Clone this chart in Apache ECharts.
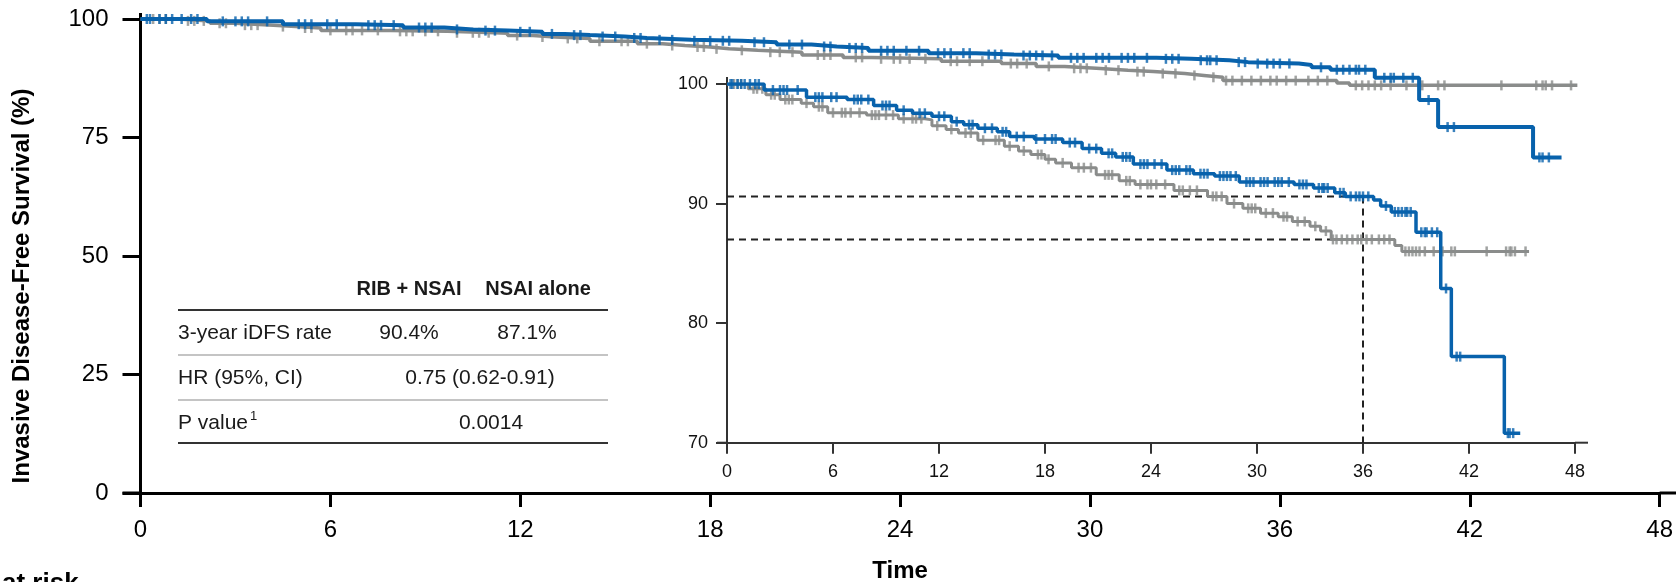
<!DOCTYPE html>
<html><head><meta charset="utf-8">
<script src="https://cdn.jsdelivr.net/npm/echarts@6/dist/echarts.min.js"></script>
<style>html,body{margin:0;padding:0;background:#fff;overflow:hidden}#c{width:1676px;height:582px}</style>
</head><body><div id="c"></div>
<script>
// ---------- data ----------
const xTicks = [0, 6, 12, 18, 24, 30, 36, 42, 48];
const mainYTicks = [0, 25, 50, 75, 100];
const insetYTicks = [70, 80, 90, 100];

// RIB + NSAI (blue): times of drops and survival after each drop
const ribTimes  = [0, 2.1, 4.5, 6.8, 8.3, 9.6, 10.5, 11.6, 12.7, 13.4, 14.2, 15.3, 16.0, 17.4, 19.0, 20.1, 21.2, 22.0, 23.0, 24.9, 26.4, 27.6, 29.0, 32.1, 33.2, 34.4, 35.0, 36.6, 37.0, 37.6, 39.0, 40.4, 41.0, 44.0];
const ribValues = [100, 99.5, 98.9, 98.7, 98.2, 97.8, 97.55, 97.3, 96.85, 96.6, 96.3, 96.0, 95.6, 95.4, 95.1, 94.6, 94.2, 93.9, 93.3, 92.8, 92.5, 92.3, 91.8, 91.6, 91.3, 90.9, 90.6, 90.3, 89.8, 89.3, 87.6, 82.9, 77.2, 70.8];
const ribEnd = 44.9;
const ribCensor = [0.2, 0.3, 0.6, 0.8, 1.0, 1.3, 1.6, 1.8, 2.6, 3.0, 3.2, 3.4, 4.0, 5.0, 5.2, 5.4, 5.9, 6.2, 7.2, 7.4, 7.6, 8.0, 8.8, 9.0, 9.2, 10.0, 10.9, 11.2, 12.0, 12.3, 13.0, 13.7, 13.9, 14.6, 15.0, 15.6, 15.8, 16.4, 16.8, 17.5, 18.0, 18.4, 18.6, 19.4, 19.7, 20.5, 20.9, 21.6, 21.8, 22.4, 22.6, 22.8, 23.4, 23.6, 23.8, 24.2, 24.6, 25.2, 25.4, 25.6, 26.0, 26.2, 26.8, 27.0, 27.2, 27.9, 28.1, 28.3, 28.5, 28.8, 29.4, 29.6, 29.8, 30.2, 30.4, 30.6, 31.0, 31.2, 31.4, 31.8, 32.4, 32.6, 32.8, 33.5, 33.7, 33.8, 34.0, 34.7, 34.9, 35.3, 35.6, 35.8, 36.0, 36.3, 37.3, 37.8, 38.0, 38.2, 38.4, 38.5, 38.7, 39.3, 39.5, 39.6, 39.9, 40.2, 40.7, 41.3, 41.5, 44.2, 44.3, 44.5];

// NSAI alone (grey)
const nsaiTimes  = [0, 1.2, 2.2, 3.0, 4.2, 4.9, 5.7, 7.9, 9.7, 11.2, 11.6, 12.4, 13.1, 14.2, 15.7, 16.5, 17.2, 18.0, 18.6, 19.5, 20.9, 22.2, 23.1, 25.3, 27.2, 28.3, 29.2, 30.2, 31.2, 32.0, 33.0, 33.6, 34.2, 37.8, 38.2];
const nsaiValues = [100, 99.6, 99.1, 98.7, 98.4, 98.1, 97.6, 97.4, 97.1, 97.0, 96.5, 96.2, 95.9, 95.3, 94.8, 94.4, 94.1, 93.7, 93.4, 93.0, 92.4, 91.9, 91.6, 91.1, 90.6, 90.0, 89.6, 89.2, 88.9, 88.5, 88.1, 87.7, 87.0, 86.5, 86.0];
const nsaiEnd = 45.4;
const nsaiCensor = [0.4, 0.6, 0.8, 1.5, 1.7, 2.0, 2.5, 2.7, 3.3, 3.5, 3.7, 4.5, 5.2, 5.4, 6.0, 6.5, 6.7, 7.0, 7.5, 8.2, 8.4, 8.6, 9.0, 9.4, 10.0, 10.5, 10.7, 11.0, 11.9, 12.7, 13.5, 13.8, 14.5, 15.2, 15.4, 16.0, 16.8, 17.6, 17.8, 18.2, 19.0, 19.9, 20.2, 20.6, 21.4, 21.6, 21.8, 22.6, 22.8, 23.4, 23.8, 24.0, 24.3, 24.8, 25.6, 25.8, 26.2, 26.6, 27.5, 27.7, 28.0, 28.7, 29.5, 29.7, 29.9, 30.5, 30.9, 31.5, 31.7, 32.3, 32.7, 33.3, 33.9, 34.3, 34.5, 34.8, 35.1, 35.4, 35.7, 35.9, 36.2, 36.5, 36.9, 37.2, 37.5, 38.4, 38.6, 38.8, 39.0, 39.2, 39.5, 40.0, 40.5, 41.0, 41.2, 43.0, 44.1, 44.3, 44.4, 44.6, 45.2];

// 3-year landmark reference lines
const landmarkMonth = 36;
const ribAt36 = 90.6;
const nsaiAt36 = 87.0;

// summary table
const tableHeader = ['RIB + NSAI', 'NSAI alone'];
const rowRate = ['3-year iDFS rate', '90.4%', '87.1%'];
const rowHR = ['HR (95%, CI)', '0.75 (0.62-0.91)'];
const rowP = ['P value', '1', '0.0014'];

const yTitle = 'Invasive Disease-Free Survival (%)';
const xTitle = 'Time';
const riskTitle = 'at risk';

// ---------- helpers ----------
const BLUE = '#0862ac', GREY = '#8a8c8b';
const FONT = '"Liberation Sans", Arial, sans-serif';
function stepData(times, values, end) {
  const d = times.map((t, i) => [t, values[i]]);
  d.push([end, values[values.length - 1]]);
  return d;
}
function valueAt(times, values, t) {
  let v = values[0];
  for (let i = 0; i < times.length; i++) if (times[i] <= t) v = values[i];
  return v;
}
function censorData(cs, times, values) { return cs.map(c => [c, valueAt(times, values, c)]); }

const ribLine = stepData(ribTimes, ribValues, ribEnd);
const nsaiLine = stepData(nsaiTimes, nsaiValues, nsaiEnd);
const ribMarks = censorData(ribCensor, ribTimes, ribValues);
const nsaiMarks = censorData(nsaiCensor, nsaiTimes, nsaiValues);

function kmSeries(idx, lw, sw, sh) {
  return [
    { type: 'line', xAxisIndex: idx, yAxisIndex: idx, data: nsaiLine, step: 'end', showSymbol: false, lineStyle: { color: GREY, width: lw - 0.5 }, z: 2, silent: true },
    { type: 'scatter', xAxisIndex: idx, yAxisIndex: idx, data: nsaiMarks, symbol: 'rect', symbolSize: [sw, sh], itemStyle: { color: GREY }, z: 3, silent: true },
    { type: 'line', xAxisIndex: idx, yAxisIndex: idx, data: ribLine, step: 'end', showSymbol: false, lineStyle: { color: BLUE, width: lw }, z: 4, silent: true },
    { type: 'scatter', xAxisIndex: idx, yAxisIndex: idx, data: ribMarks, symbol: 'rect', symbolSize: [sw, sh], itemStyle: { color: BLUE }, z: 5, silent: true }
  ];
}

const chart = echarts.init(document.getElementById('c'), null, { renderer: 'canvas' });
const option = {
  animation: false,
  backgroundColor: '#fff',
  textStyle: { fontFamily: FONT },
  grid: [
    { left: 140.5, right: 16, top: 19, bottom: 89 },
    { left: 727, right: 101, top: 84, bottom: 139.3 }
  ],
  xAxis: [
    { gridIndex: 0, type: 'value', min: 0, max: 48, interval: 6,
      axisLine: { show: true, lineStyle: { color: '#000', width: 3 } },
      axisTick: { show: true, length: 14, lineStyle: { color: '#000', width: 3 } },
      axisLabel: { fontSize: 24, color: '#000', margin: 25, fontFamily: FONT, formatter: v => xTicks.includes(v) ? String(v) : '' },
      splitLine: { show: false } },
    { gridIndex: 1, type: 'value', min: 0, max: 48, interval: 6,
      axisLine: { show: true, lineStyle: { color: '#333', width: 2 } },
      axisTick: { show: true, length: 11, lineStyle: { color: '#333', width: 2 } },
      axisLabel: { fontSize: 18, color: '#111', margin: 20, fontFamily: FONT, formatter: v => xTicks.includes(v) ? String(v) : '' },
      splitLine: { show: false } }
  ],
  yAxis: [
    { gridIndex: 0, type: 'value', min: 0, max: 100, interval: 25,
      axisLine: { show: true, lineStyle: { color: '#000', width: 3 } },
      axisTick: { show: true, length: 18, lineStyle: { color: '#000', width: 3 } },
      axisLabel: { fontSize: 24, color: '#000', margin: 32, fontFamily: FONT, formatter: v => mainYTicks.includes(v) ? String(v) : '' },
      splitLine: { show: false } },
    { gridIndex: 1, type: 'value', min: 70, max: 100, interval: 10,
      axisLine: { show: true, lineStyle: { color: '#333', width: 2 } },
      axisTick: { show: true, length: 11, lineStyle: { color: '#333', width: 2 } },
      axisLabel: { fontSize: 18, color: '#111', margin: 19, fontFamily: FONT, formatter: v => insetYTicks.includes(v) ? String(v) : '' },
      splitLine: { show: false } }
  ],
  series: [
    ...kmSeries(0, 4, 2.5, 10),
    {
      type: 'line', xAxisIndex: 1, yAxisIndex: 1, showSymbol: false, silent: true, z: 1,
      lineStyle: { color: '#222', width: 2, type: [7, 5] },
      data: [[0, ribAt36], [landmarkMonth, ribAt36]]
    },
    {
      type: 'line', xAxisIndex: 1, yAxisIndex: 1, showSymbol: false, silent: true, z: 1,
      lineStyle: { color: '#222', width: 2, type: [7, 5] },
      data: [[0, nsaiAt36], [landmarkMonth, nsaiAt36]]
    },
    {
      type: 'line', xAxisIndex: 1, yAxisIndex: 1, showSymbol: false, silent: true, z: 1,
      lineStyle: { color: '#222', width: 2, type: [7, 5] },
      data: [[landmarkMonth, ribAt36], [landmarkMonth, 70]]
    },
    ...kmSeries(1, 3.5, 2.5, 10)
  ]
};
chart.setOption(option);

// axis overshoot lines & annotations
const m0 = chart.convertToPixel({ gridIndex: 0 }, [0, 0]);
const m1 = chart.convertToPixel({ gridIndex: 0 }, [48, 100]);
const i0 = chart.convertToPixel({ gridIndex: 1 }, [0, 70]);
const i1 = chart.convertToPixel({ gridIndex: 1 }, [48, 100]);

function hline(x1, x2, y, w, c) { return { type: 'line', shape: { x1, y1: y, x2, y2: y }, style: { stroke: c, lineWidth: w }, silent: true }; }
function vline(x, y1, y2, w, c) { return { type: 'line', shape: { x1: x, y1, x2: x, y2 }, style: { stroke: c, lineWidth: w }, silent: true }; }
function txt(text, x, y, size, bold, align, extra, fill) {
  return Object.assign({ type: 'text', x, y, silent: true,
    style: { text, fill: fill || '#1a1a1a', font: (bold ? 'bold ' : '') + size + 'px ' + FONT,
      align, textAlign: align, verticalAlign: 'middle', textVerticalAlign: 'middle' } }, extra || {});
}

const graphics = [
  hline(m0[0] - 18, m0[0], m0[1], 3, '#000'),
  hline(m1[0], 1676, m0[1], 3, '#000'),
  vline(m0[0], m1[1] - 6, m1[1], 3, '#000'),
  hline(i0[0] - 10, i0[0], i0[1], 2, '#333'),
  hline(i1[0], i1[0] + 13, i0[1], 2, '#333'),
  vline(i0[0], i1[1] - 7, i1[1], 2, '#333'),
  // axis titles
  txt(yTitle, 22, 286, 24, true, 'center', { rotation: Math.PI / 2 }, '#000'),
  txt(xTitle, (m0[0] + m1[0]) / 2, 571, 24, true, 'center', null, '#000'),
  // at risk (cut off at bottom)
  txt(riskTitle, 2, 584, 26, true, 'left', null, '#000'),
  // table
  txt(tableHeader[0], 409, 289, 20, true, 'center'),
  txt(tableHeader[1], 538, 289, 20, true, 'center'),
  hline(178, 608, 310, 2, '#333'),
  txt(rowRate[0], 178, 333, 21, false, 'left'),
  txt(rowRate[1], 409, 333, 21, false, 'center'),
  txt(rowRate[2], 527, 333, 21, false, 'center'),
  hline(178, 608, 355, 1.5, '#b0b0b0'),
  txt(rowHR[0], 178, 378, 21, false, 'left'),
  txt(rowHR[1], 480, 378, 21, false, 'center'),
  hline(178, 608, 400, 1.5, '#b0b0b0'),
  txt(rowP[0], 178, 423, 21, false, 'left'),
  txt(rowP[1], 250, 416, 13, false, 'left'),
  txt(rowP[2], 491, 423, 21, false, 'center'),
  hline(178, 608, 443, 2, '#333')
];
chart.setOption({ graphic: graphics });
</script>
</body></html>
